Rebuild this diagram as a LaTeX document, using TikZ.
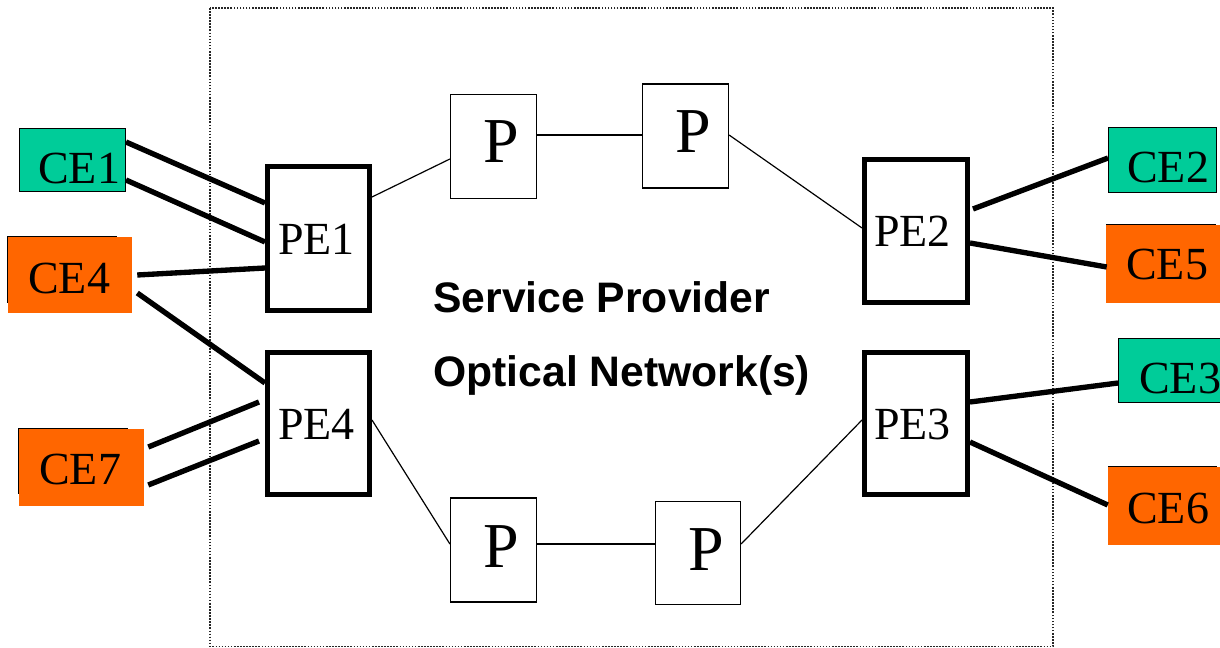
\documentclass[tikz,border=0pt]{standalone}
\usepackage{fontspec}
\setmainfont{Liberation Serif}
\newfontfamily\labelsans{Liberation Sans}
\usetikzlibrary{calc}
\definecolor{cegreen}{HTML}{00CC99}
\definecolor{ceorange}{HTML}{FF6600}
\begin{document}
\begin{tikzpicture}[x=0.75pt,y=-0.75pt,
  box/.style={rectangle, inner sep=0pt, outer sep=0.5\pgflinewidth},
  greenbox/.style={box, draw=black, line width=0.75pt, fill=cegreen},
  orangebox/.style={box, fill=ceorange},
  oframe/.style={draw=black, line width=0.75pt},
  pebox/.style={box, draw=black, line width=3.75pt, fill=white},
  pbox/.style={box, draw=black, line width=0.9pt, fill=white},
  celabel/.style={anchor=base west, inner sep=0pt, font=\fontsize{34.5pt}{36pt}\selectfont},
  plabel/.style={anchor=base west, inner sep=0pt, font=\fontsize{48pt}{50pt}\selectfont},
  netlabel/.style={anchor=base west, inner sep=0pt, font=\labelsans\bfseries\fontsize{32pt}{34pt}\selectfont},
  thickline/.style={line width=4pt},
  thinline/.style={line width=0.9pt},
  frame/.style={draw=black!85, line width=1pt, dash pattern=on 1.2pt off 1.1pt}]
\useasboundingbox (0,0) rectangle (1220,648);

% dotted service provider frame
\draw[frame] (210,8) rectangle (1053,646.5);

% frames behind orange boxes
\draw[oframe] (7,237) rectangle (116,303);
\draw[oframe] (18,428) rectangle (127,493);
\draw[oframe] (1106,225) rectangle (1215,291);
\draw[oframe] (1108,466) rectangle (1216,532);

% CE boxes
\node[greenbox, minimum width=79.5pt, minimum height=47.25pt] (ce1) at (72.5,160) {};
\node[greenbox, minimum width=81pt, minimum height=48.75pt] (ce2) at (1162.5,160) {};
\node[greenbox, minimum width=81pt, minimum height=48pt] (ce3) at (1172.5,370.5) {};
\node[orangebox, minimum width=93pt, minimum height=57pt] (ce4) at (70,275) {};
\node[orangebox, minimum width=93pt, minimum height=58.5pt] (ce5) at (1168,264) {};
\node[orangebox, minimum width=93pt, minimum height=58.5pt] (ce6) at (1170,506) {};
\node[orangebox, minimum width=93.75pt, minimum height=57.75pt] (ce7) at (81.5,467.5) {};

% PE boxes
\node[pebox, minimum width=76.5pt, minimum height=108pt] (pe1) at (318.5,238.5) {};
\node[pebox, minimum width=77.25pt, minimum height=107.25pt] (pe2) at (916,231) {};
\node[pebox, minimum width=77.25pt, minimum height=106.5pt] (pe3) at (916,423.5) {};
\node[pebox, minimum width=76.5pt, minimum height=106.5pt] (pe4) at (318.5,423.5) {};

% P boxes
\node[pbox, minimum width=64.5pt, minimum height=78pt] (tp1) at (493.5,146.5) {};
\node[pbox, minimum width=64.5pt, minimum height=78pt] (tp2) at (685.5,136) {};
\node[pbox, minimum width=64.5pt, minimum height=78pt] (bp1) at (493.5,550) {};
\node[pbox, minimum width=63.75pt, minimum height=77.25pt] (bp2) at (698,553) {};

% labels
\node[celabel] (ce1t) at (38,184) {CE1};
\node[celabel] (ce4t) at (28,294) {CE4};
\node[celabel] (ce7t) at (39,484) {CE7};
\node[celabel] (ce2t) at (1127,183) {CE2};
\node[celabel] (ce5t) at (1126,280) {CE5};
\node[celabel] (ce3t) at (1139,393) {CE3};
\node[celabel] (ce6t) at (1127,523) {CE6};
\node[celabel] (pe1t) at (278,255) {PE1};
\node[celabel] (pe4t) at (278,439) {PE4};
\node[celabel] (pe2t) at (874,247) {PE2};
\node[celabel] (pe3t) at (874,439) {PE3};
\node[plabel] (tp1t) at (483,163) {P};
\node[plabel] (tp2t) at (675,153) {P};
\node[plabel] (bp1t) at (483,567) {P};
\node[plabel] (bp2t) at (688,570) {P};
\node[netlabel] (net1) at (433,313) {Service Provider};
\node[netlabel] (net2) at (433,386) {Optical Network(s)};

% access links (thick)
\draw[thickline] ($(ce1.east)+(0,-18)$) -- ($(pe1.west)+(0,-35.5)$);
\draw[thickline] ($(ce1.east)+(0,20)$) -- ($(pe1.west)+(0,3.5)$);
\draw[thickline] ($(ce4.east)+(5,0)$) -- ($(pe1.west)+(0,29.5)$);
\draw[thickline] ($(ce4.east)+(5,18)$) -- ($(pe4.west)+(0,-40.5)$);
\draw[thickline] ($(ce7.east)+(4,-20.5)$) -- ($(pe4.west)+(-6,-21.5)$);
\draw[thickline] ($(ce7.east)+(4,17.5)$) -- ($(pe4.west)+(-6,17.5)$);
\draw[thickline] ($(pe2.east)+(3,-22)$) -- ($(ce2.west)+(0,-2)$);
\draw[thickline] ($(pe2.east)+(0,12)$) -- ($(ce5.west)+(1,3)$);
\draw[thickline] ($(pe3.east)+(0,-21.5)$) -- ($(ce3.west)+(0,12.5)$);
\draw[thickline] ($(pe3.east)+(0,18.5)$) -- ($(ce6.west)+(0,-1)$);

% core links (thin)
\draw[thinline] ($(pe1.east)+(0,-41.5)$) -- ($(tp1.west)+(0,12.5)$);
\draw[thinline] ($(tp1.east)+(0,-11.5)$) -- ($(tp2.west)+(0,-1)$);
\draw[thinline] ($(tp2.east)+(0,-1)$) -- ($(pe2.west)+(0,-3)$);
\draw[thinline] ($(pe4.east)+(0,-3.5)$) -- ($(bp1.west)+(0,-6)$);
\draw[thinline] ($(bp1.east)+(0,-6)$) -- ($(bp2.west)+(0,-9)$);
\draw[thinline] ($(bp2.east)+(0,-9)$) -- ($(pe3.west)+(0,-3.5)$);
\end{tikzpicture}
\end{document}
